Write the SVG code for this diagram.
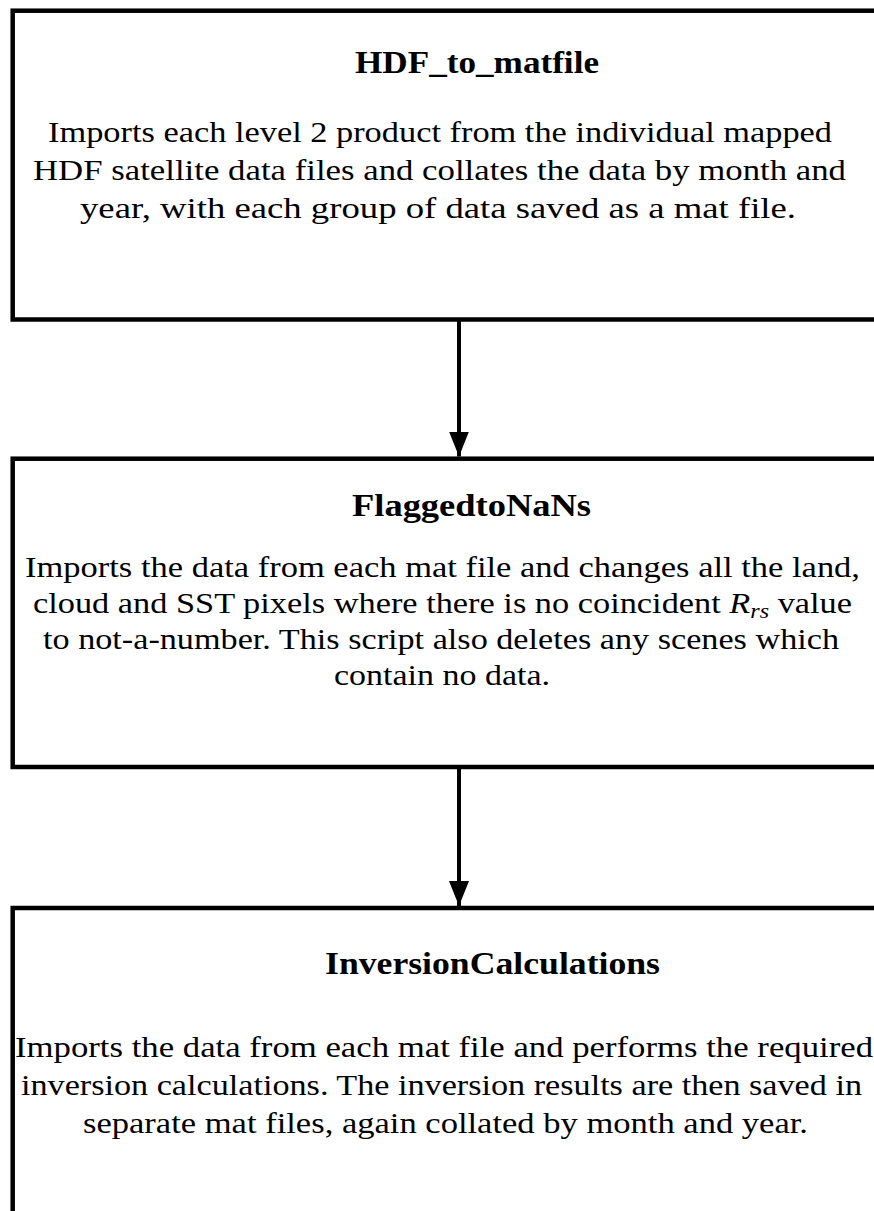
<svg xmlns="http://www.w3.org/2000/svg" width="874" height="1211" viewBox="0 0 874 1211">
<style>
.box{fill:#fff;stroke:#000;stroke-width:4.5}
.title{font-family:"Liberation Serif",serif;font-weight:bold;font-size:32px;fill:#000}
.body{font-family:"Liberation Serif",serif;font-size:28.5px;fill:#000}
.conn{stroke:#000;stroke-width:4;fill:none}
</style>
<defs>
<marker id="ah" markerWidth="25" markerHeight="20" refX="25" refY="10" orient="auto" markerUnits="userSpaceOnUse">
<path d="M0,0 L25,10 L0,20 Z" fill="#000"/>
</marker>
</defs>
<rect width="874" height="1211" fill="#fff"/>
<g id="node-hdf">
<rect class="box" x="12.7" y="10.7" width="900" height="308.8"/>
<text class="title" x="355" y="73" textLength="244" lengthAdjust="spacingAndGlyphs">HDF_to_matfile</text>
<text class="body" x="48" y="142" textLength="784" lengthAdjust="spacingAndGlyphs">Imports each level 2 product from the individual mapped</text>
<text class="body" x="33" y="180" textLength="813" lengthAdjust="spacingAndGlyphs">HDF satellite data files and collates the data by month and</text>
<text class="body" x="80" y="218" textLength="716" lengthAdjust="spacingAndGlyphs">year, with each group of data saved as a mat file.</text>
</g>
<g id="node-flagged">
<rect class="box" x="12.7" y="458.7" width="900" height="308.3"/>
<text class="title" x="352" y="516" textLength="239" lengthAdjust="spacingAndGlyphs">FlaggedtoNaNs</text>
<text class="body" x="25" y="577" textLength="835" lengthAdjust="spacingAndGlyphs">Imports the data from each mat file and changes all the land,</text>
<text class="body" x="33" y="613" textLength="819" lengthAdjust="spacingAndGlyphs">cloud and SST pixels where there is no coincident <tspan font-style="italic">R</tspan><tspan font-style="italic" font-size="20" dy="5">rs</tspan><tspan dy="-5"> value</tspan></text>
<text class="body" x="43" y="649" textLength="796" lengthAdjust="spacingAndGlyphs">to not-a-number. This script also deletes any scenes which</text>
<text class="body" x="334" y="685" textLength="216" lengthAdjust="spacingAndGlyphs">contain no data.</text>
</g>
<g id="node-inversion">
<rect class="box" x="12.7" y="908" width="900" height="400"/>
<text class="title" x="325" y="974" textLength="335" lengthAdjust="spacingAndGlyphs">InversionCalculations</text>
<text class="body" x="15" y="1057" textLength="858" lengthAdjust="spacingAndGlyphs">Imports the data from each mat file and performs the required</text>
<text class="body" x="21" y="1095" textLength="841" lengthAdjust="spacingAndGlyphs">inversion calculations. The inversion results are then saved in</text>
<text class="body" x="83" y="1133" textLength="725" lengthAdjust="spacingAndGlyphs">separate mat files, again collated by month and year.</text>
</g>
<g id="connectors">
<line class="conn" x1="459" y1="321" x2="459" y2="456.5" marker-end="url(#ah)"/>
<line class="conn" x1="459" y1="769" x2="459" y2="906" marker-end="url(#ah)"/>
</g>
</svg>
